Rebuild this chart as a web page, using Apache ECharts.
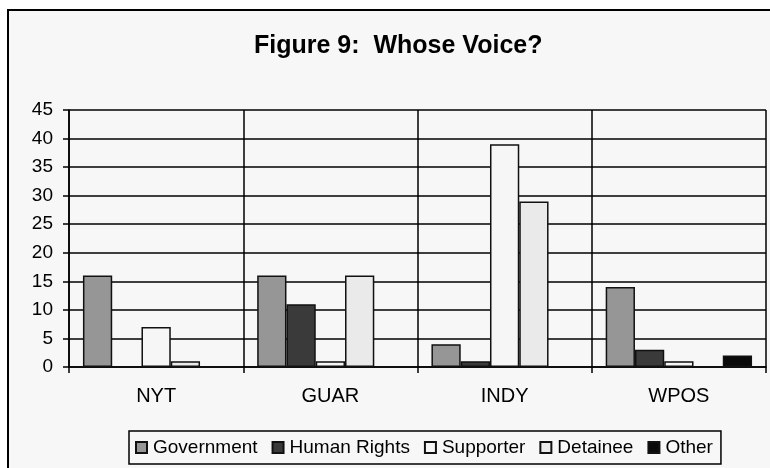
<!DOCTYPE html>
<html>
<head>
<meta charset="utf-8">
<script src="https://cdn.jsdelivr.net/npm/echarts@6/dist/echarts.min.js"></script>
<style>
  html, body { margin: 0; padding: 0; background: #ffffff; }
  #chart { width: 770px; height: 468px; }
</style>
</head>
<body>
<div id="chart"></div>
<script>
// papers along the x axis
var papers = ['NYT', 'GUAR', 'INDY', 'WPOS'];
var yTicks = [0, 5, 10, 15, 20, 25, 30, 35, 40, 45];

// one array per voice
var government = [16, 16, 4, 14];
var humanRights = [0, 11, 1, 3];
var supporter = [7, 1, 39, 1];
var detainee = [1, 16, 29, 0];
var other = [0, 0, 0, 2];

var seriesNames = ['Government', 'Human Rights', 'Supporter', 'Detainee', 'Other'];
var seriesData = [government, humanRights, supporter, detainee, other];
var seriesColors = ['#969696', '#3a3a3a', '#f6f6f6', '#eaeaea', '#0a0a0a'];

var font = '"Liberation Sans", Arial, sans-serif';

var series = [];
for (var i = 0; i < seriesNames.length; i++) {
    series.push({
        name: seriesNames[i],
        type: 'bar',
        data: seriesData[i].map(function (v) { return v === 0 ? '-' : v; }),
        barGap: '0%',
        barCategoryGap: '16%',
        itemStyle: {
            color: seriesColors[i],
            borderColor: '#111',
            borderWidth: 1.5
        },
        emphasis: { disabled: true }
    });
}

var chart = echarts.init(document.getElementById('chart'));
chart.setOption({
    backgroundColor: '#ffffff',
    animation: false,
    textStyle: { fontFamily: font },
    title: {
        text: 'Figure 9:  Whose Voice?',
        left: 249,
        top: 29,
        textStyle: { fontFamily: font, fontSize: 25, fontWeight: 'bold', color: '#000' }
    },
    graphic: [{
        type: 'rect',
        z: -10,
        shape: { x: 8, y: 10, width: 800, height: 500 },
        style: { fill: '#f7f7f7', stroke: '#000', lineWidth: 2 },
        silent: true
    }],
    legend: {
        data: seriesNames,
        icon: 'rect',
        left: 129,
        top: 431,
        width: 620,
        itemWidth: 11,
        itemHeight: 11,
        itemGap: 14,
        padding: [7, 8, 7, 6],
        borderColor: '#000',
        borderWidth: 1.5,
        textStyle: { fontFamily: font, fontSize: 19, color: '#000', padding: [0, 0, 0, 1] }
    },
    grid: { left: 69, right: 4, top: 110, bottom: 101, containLabel: false },
    xAxis: {
        type: 'category',
        data: papers,
        axisLine: { lineStyle: { color: '#000', width: 1.5 } },
        axisTick: { show: true, length: 6, lineStyle: { color: '#000', width: 1.5 } },
        axisLabel: { color: '#000', fontSize: 20, fontFamily: font, margin: 19 },
        splitLine: { show: true, lineStyle: { color: '#000', width: 1.5 } }
    },
    yAxis: {
        type: 'value',
        min: yTicks[0],
        max: yTicks[yTicks.length - 1],
        interval: 5,
        axisLine: { show: true, lineStyle: { color: '#000', width: 1.5 } },
        axisTick: { show: true, length: 6, lineStyle: { color: '#000', width: 1.5 } },
        axisLabel: { color: '#000', fontSize: 19, fontFamily: font, margin: 16 },
        splitLine: { show: true, lineStyle: { color: '#000', width: 1.5 } }
    },
    series: series
});
</script>
</body>
</html>
